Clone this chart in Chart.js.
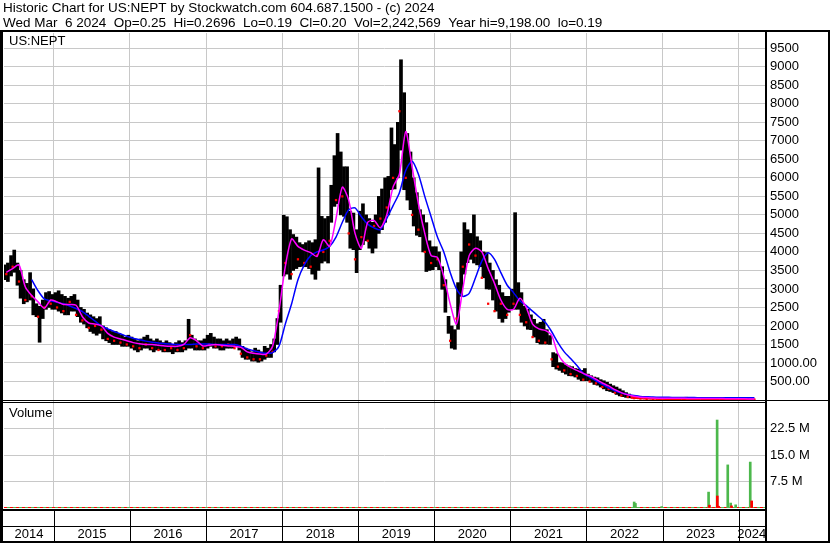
<!DOCTYPE html>
<html>
<head>
<meta charset="utf-8">
<title>US:NEPT historic chart</title>
<script src="https://cdn.jsdelivr.net/npm/chart.js@4.4.1/dist/chart.umd.min.js"></script>
<style>
  html, body { margin: 0; padding: 0; background: #fff; }
  #wrap { position: relative; width: 830px; height: 543px; }
</style>
</head>
<body>
<div id="wrap"><canvas id="chart" width="830" height="543"></canvas></div>
<script>
// Header text
const titleLine1 = "Historic Chart for US:NEPT by Stockwatch.com 604.687.1500 - (c) 2024";
const titleLine2 = "Wed Mar  6 2024  Op=0.25  Hi=0.2696  Lo=0.19  Cl=0.20  Vol=2,242,569  Year hi=9,198.00  lo=0.19";

// Half-month price ranges, first bucket = first half of May 2014
const firstHalfMonth = 8;
const priceHigh = [
  // 2014
  3650, 3700, 3900, 4050, 3700, 3500, 3250, 3150, 3440, 3000, 2600, 2530, 2700, 2900, 2930, 2850,
  // 2015
  2900, 2950, 2850, 2800, 2750, 2800, 2850, 2700, 2500, 2450, 2350, 2300, 2250, 2200, 2250, 2000, 1950, 1900, 1850, 1850, 1800, 1750, 1700, 1750,
  // 2016
  1700, 1650, 1600, 1650, 1700, 1750, 1650, 1600, 1650, 1600, 1550, 1600, 1550, 1500, 1550, 1600, 1550, 1600, 2180, 1750, 1650, 1600, 1600, 1650,
  // 2017
  1750, 1800, 1700, 1650, 1650, 1600, 1650, 1600, 1650, 1700, 1650, 1450, 1400, 1350, 1300, 1400, 1350, 1300, 1450, 1400, 1500, 1650, 2200, 3100,
  // 2018
  4990, 4950, 4600, 4470, 4400, 4250, 4200, 4250, 4300, 4250, 4330, 6270, 4960, 4900, 4960, 5800, 6600, 7200, 6700, 6300, 6300, 5100, 5050, 4600,
  // 2019
  5100, 5300, 5000, 4900, 4800, 5000, 5500, 5700, 6000, 6040, 7350, 6900, 7500, 9190, 8300, 7200, 6700, 6000, 5600, 5140, 5000, 4790, 4300, 4140,
  // 2020
  4140, 4000, 3600, 3250, 2260, 2000, 1900, 3170, 4000, 4790, 4600, 4500, 5000, 4410, 4300, 4000, 3980, 3700, 3500, 3250, 3100, 2900, 2800, 2800,
  // 2021
  2990, 5060, 3170, 2900, 2530, 2450, 2300, 2180, 2060, 2100, 2180, 1900, 1740, 1280, 1250, 1010, 1000, 950, 920, 900, 850, 835, 800, 850,
  // 2022
  700, 655, 620, 600, 550, 520, 480, 430, 386, 350, 300, 250, 200, 160, 120, 100, 90, 80, 70, 60, 55, 50, 45, 40,
  // 2023
  45, 40, 40, 40, 35, 40, 45, 75, 40, 40, 35, 35, 35, 35, 40, 40, 35, 35, 30, 30, 30, 35, 30, 30,
  // 2024
  30, 25, 25, 25, 20
];
const priceLow = [
  // 2014
  3250, 3200, 3350, 3450, 3100, 2750, 2600, 2650, 2700, 2300, 2250, 1560, 2200, 2450, 2500, 2450,
  // 2015
  2450, 2400, 2350, 2300, 2300, 2400, 2400, 2250, 2100, 2050, 1950, 1850, 1800, 1750, 1800, 1650, 1600, 1550, 1500, 1500, 1500, 1450, 1450, 1450,
  // 2016
  1400, 1350, 1300, 1350, 1400, 1400, 1350, 1300, 1350, 1350, 1300, 1300, 1300, 1250, 1300, 1300, 1300, 1350, 1400, 1400, 1350, 1350, 1350, 1350,
  // 2017
  1400, 1450, 1400, 1400, 1350, 1350, 1400, 1400, 1400, 1450, 1350, 1150, 1100, 1100, 1050, 1050, 1020, 1050, 1100, 1150, 1150, 1300, 1500, 2100,
  // 2018
  3350, 3400, 3260, 3500, 3550, 3600, 3610, 3600, 3550, 3400, 3260, 3500, 3700, 3750, 3700, 4800, 5230, 5300, 5000, 4960, 4800, 4100, 4060, 3440,
  // 2019
  4060, 4200, 4300, 4100, 3970, 4100, 4500, 4600, 4800, 5000, 5680, 5700, 6000, 6750, 5680, 5400, 5140, 4700, 4450, 4410, 4000, 3470, 3500, 3520,
  // 2020
  3600, 3520, 2990, 2370, 1800, 1400, 1370, 1910, 2800, 3400, 3710, 3800, 3700, 3650, 3600, 3300, 3000, 2990, 2700, 2400, 2200, 2100, 2200, 2370,
  // 2021
  2450, 2450, 2450, 2100, 2000, 1910, 1900, 1700, 1550, 1510, 1510, 1510, 1500, 900, 835, 800, 745, 700, 655, 650, 620, 560, 520, 520,
  // 2022
  520, 480, 420, 400, 350, 300, 250, 230, 200, 150, 110, 90, 70, 60, 40, 35, 30, 25, 20, 20, 15, 15, 10, 10,
  // 2023
  10, 8, 8, 8, 6, 8, 8, 10, 8, 8, 6, 6, 6, 6, 8, 8, 6, 6, 5, 5, 5, 6, 5, 5,
  // 2024
  5, 4, 4, 4, 4
];

// Monthly values, first month = May 2014
const firstMonth = 4;
const closes = [
  3400, 3600, 3200, 2700, 2800, 2250, 2500, 2600,
  2500, 2400, 2650, 2300, 2150, 1950, 2000, 1900, 1650, 1600, 1550, 1500,
  1450, 1400, 1500, 1400, 1350, 1350, 1400, 1350, 1400, 1750, 1450, 1400,
  1500, 1450, 1450, 1500, 1400, 1250, 1150, 1100, 1100, 1200, 1300, 2400,
  3700, 3400, 3800, 3700, 3600, 3900, 4000, 4300, 5400, 5500, 4500, 3800,
  4400, 4300, 4700, 4900, 5200, 6000, 7800, 6000, 5000, 4600, 4000, 3700,
  3800, 3100, 1600, 2200, 3600, 4200, 3900, 3300, 2600, 2400, 2600, 2300,
  2600, 2300, 2100, 1700, 1600, 1550, 1100, 900, 800, 700, 650, 550,
  500, 450, 350, 300, 200, 120, 80, 50, 40, 30, 25, 20,
  20, 20, 20, 25, 20, 20, 20, 20, 15, 15, 15, 15,
  12, 10, 10
];
const maFast = [
  3450, 3550, 3650, 3050, 2820, 2650, 2480, 2700,
  2650, 2580, 2580, 2560, 2250, 2080, 2050, 2000, 1800, 1700, 1650, 1600,
  1550, 1520, 1500, 1500, 1480, 1460, 1450, 1450, 1500, 1680, 1600, 1460,
  1480, 1500, 1480, 1460, 1450, 1420, 1300, 1260, 1240, 1240, 1450, 2400,
  3600, 4350, 4150, 4050, 3980, 3880, 4330, 4150, 4900, 5750, 5400, 4500,
  4100, 4800, 4850, 4650, 5000, 5750, 6100, 7250, 6300, 5300, 4500, 3900,
  3850, 3340, 2600, 2050, 3000, 3900, 4100, 4000, 3550, 3150, 2700, 2450,
  2450, 2750, 2500, 2050, 1920, 1880, 1750, 1250, 1000, 880, 800, 720,
  650, 560, 460, 380, 280, 200, 140, 100, 75, 65, 55, 50,
  48, 46, 45, 44, 42, 40, 40, 40, 38, 38, 36, 35,
  32, 30, 28
];
const maSlow = [
  null, null, null, null, 3250, 2950, 2730, 2680,
  2640, 2600, 2540, 2470, 2390, 2260, 2130, 2000, 1920, 1850, 1790, 1720,
  1670, 1630, 1590, 1560, 1540, 1520, 1510, 1500, 1500, 1500, 1510, 1510,
  1510, 1500, 1500, 1500, 1500, 1450, 1380, 1330, 1290, 1260, 1280, 1450,
  2050, 2600, 3250, 3650, 3900, 4000, 4050, 4150, 4400, 4800, 5140, 5190,
  4950, 4750, 4650, 4600, 4900, 5250, 5600, 6200, 6450, 6100, 5500, 4950,
  4400, 4000, 3450, 3000, 2800, 2880, 3300, 3750, 3980, 3800, 3440, 3100,
  2900, 2680, 2550, 2400, 2250, 2100, 1850, 1550, 1300, 1120, 930, 720,
  620, 520, 420, 330, 250, 190, 150, 120, 95, 85, 80, 75,
  72, 70, 68, 66, 65, 64, 63, 62, 61, 60, 60, 60,
  60, 60, 60
];

// Daily volume spikes (millions)
const volUpDates = ["2022-08-18", "2022-08-24", "2022-12-28", "2023-08-10", "2023-09-20", "2023-11-10", "2023-11-24", "2023-12-18", "2024-02-26"];
const volUpValues = [1.7, 1.3, 0.4, 4.5, 24.9, 12.2, 1.4, 0.9, 13.0];
const volDownDates = ["2023-08-14", "2023-09-21", "2023-09-27", "2023-11-28", "2024-03-04"];
const volDownValues = [0.8, 3.4, 0.5, 0.6, 2.0];
const volFloor = 0.14;

// Axes
const yearTicks = [2015, 2016, 2017, 2018, 2019, 2020, 2021, 2022, 2023, 2024];
const yearLabels = ["2014", "2015", "2016", "2017", "2018", "2019", "2020", "2021", "2022", "2023", "2024"];
const priceTicks = [500, 1000, 1500, 2000, 2500, 3000, 3500, 4000, 4500, 5000, 5500, 6000, 6500, 7000, 7500, 8000, 8500, 9000, 9500];
const volTicks = [7.5, 15, 22.5];
const xMin = 2014.3445, xMax = 2024.347;
const priceMin = -81, priceMax = 9913;
const volMax = 29.72;

const FONT = '"Liberation Sans", Arial, sans-serif';
const gridColor = "#c8c8c8";

function yearFrac(s) {
  const d = new Date(s + "T00:00:00Z");
  const y = d.getUTCFullYear();
  const start = Date.UTC(y, 0, 1), end = Date.UTC(y + 1, 0, 1);
  return y + (d.getTime() - start) / (end - start);
}

const bars = priceHigh.map((h, i) => ({ x: 2014 + (firstHalfMonth + i + 0.5) / 24, y: [priceLow[i], h] }));
const monthX = i => 2014 + (firstMonth + i + 0.5) / 12;
const fastPts = maFast.map((v, i) => ({ x: monthX(i), y: v }));
const slowPts = maSlow.map((v, i) => ({ x: monthX(i), y: v }));
const closePts = closes.map((v, i) => ({ x: monthX(i), y: v }));
const volUp = volUpDates.map((d, i) => ({ x: yearFrac(d), y: volUpValues[i] }));
const volDown = volDownDates.map((d, i) => ({ x: yearFrac(d), y: volDownValues[i] }));
const floorPts = [{ x: xMin, y: volFloor }, { x: xMax, y: volFloor }];

const framePlugin = {
  id: "frame",
  afterDraw(chart) {
    const ctx = chart.ctx;
    const xs = chart.scales.x;
    const area = chart.chartArea;
    ctx.save();
    ctx.fillStyle = "#000";
    ctx.font = "13.5px " + FONT;
    ctx.textBaseline = "middle";
    ctx.textAlign = "left";
    ctx.fillText(titleLine1, 3, 8);
    ctx.fillText(titleLine2, 3, 23);
    ctx.font = "13px " + FONT;
    ctx.fillText("US:NEPT", 9, 41);
    ctx.fillText("Volume", 9, 413);

    // frame lines
    ctx.fillRect(0, 30, 830, 2);
    ctx.fillRect(0, 30, 3, 513);
    ctx.fillRect(828, 30, 2, 513);
    ctx.fillRect(area.right, 30, 2, 513);
    ctx.fillRect(0, 400, 830, 1);
    ctx.fillRect(0, 402, area.right, 1);
    ctx.fillRect(0, area.bottom + 1, area.right, 2);
    ctx.fillRect(0, 526, area.right, 1);
    ctx.fillRect(0, 541, 830, 2);

    // year separators and labels
    const edges = [area.left, ...yearTicks.map(v => xs.getPixelForValue(v)), area.right];
    yearTicks.forEach(v => {
      const px = Math.round(xs.getPixelForValue(v));
      ctx.fillRect(px, area.bottom + 1, 1, 541 - area.bottom - 1);
    });
    ctx.textAlign = "center";
    yearLabels.forEach((lab, i) => {
      ctx.fillText(lab, (edges[i] + edges[i + 1]) / 2, 534);
    });
    ctx.restore();
  }
};

new Chart(document.getElementById("chart"), {
  type: "bar",
  data: {
    datasets: [
      {
        type: "line", label: "MA fast", data: fastPts, yAxisID: "y", order: 0,
        borderColor: "#ff00ff", borderWidth: 1.5, pointRadius: 0, tension: 0.25
      },
      {
        type: "line", label: "MA slow", data: slowPts, yAxisID: "y", order: 1,
        borderColor: "#0000ff", borderWidth: 1.5, pointRadius: 0, tension: 0.25, spanGaps: false
      },
      {
        type: "line", label: "Close", data: closePts, yAxisID: "y", order: 2, showLine: false,
        pointStyle: "rect", pointRadius: 1.6, pointBackgroundColor: "#ff0000", pointBorderWidth: 0
      },
      {
        label: "Price", data: bars, yAxisID: "y", order: 3, grouped: false,
        barThickness: 3, minBarLength: 1,
        backgroundColor: ctx => (ctx.raw && ctx.raw.x > 2022.6 ? "#ff0000" : "#000000")
      },
      {
        label: "Volume down", data: volDown, yAxisID: "vol", order: 4, grouped: false,
        barThickness: 2, backgroundColor: "#ff0000"
      },
      {
        label: "Volume up", data: volUp, yAxisID: "vol", order: 5, grouped: false,
        barThickness: 2, backgroundColor: "#4cb84c"
      },
      {
        type: "line", label: "Volume floor red", data: floorPts, yAxisID: "vol", order: 6,
        borderColor: "#ff0000", borderWidth: 1, borderDash: [3, 3], pointRadius: 0
      },
      {
        type: "line", label: "Volume floor green", data: floorPts, yAxisID: "vol", order: 7,
        borderColor: "#4cb84c", borderWidth: 1, pointRadius: 0
      }
    ]
  },
  options: {
    responsive: false,
    animation: false,
    events: [],
    layout: { padding: { top: 33, left: 2, right: 2, bottom: 0 } },
    plugins: { legend: { display: false }, tooltip: { enabled: false } },
    scales: {
      x: {
        type: "linear", min: xMin, max: xMax, offset: false,
        afterBuildTicks: s => { s.ticks = yearTicks.map(v => ({ value: v })); },
        afterFit: s => { s.height = 35; },
        ticks: { display: false, autoSkip: false },
        grid: { color: gridColor, drawTicks: false, offset: false },
        border: { display: false }
      },
      y: {
        position: "right", stack: "panes", stackWeight: 370,
        min: priceMin, max: priceMax,
        afterBuildTicks: s => { s.ticks = priceTicks.map(v => ({ value: v })); },
        afterFit: s => { s.width = 63; },
        ticks: {
          autoSkip: false, padding: 5, color: "#000", font: { family: FONT, size: 13 },
          callback: v => (v >= 1500 ? String(v) : v.toFixed(2))
        },
        grid: { color: gridColor, drawTicks: false },
        border: { display: false }
      },
      vol: {
        position: "right", stack: "panes", stackWeight: 105,
        min: 0, max: volMax,
        afterBuildTicks: s => { s.ticks = volTicks.map(v => ({ value: v })); },
        afterFit: s => { s.width = 63; },
        ticks: {
          autoSkip: false, padding: 5, color: "#000", font: { family: FONT, size: 13 },
          callback: v => v.toFixed(1) + " M"
        },
        grid: { color: gridColor, drawTicks: false },
        border: { display: false }
      }
    }
  },
  plugins: [framePlugin]
});
</script>
</body>
</html>
